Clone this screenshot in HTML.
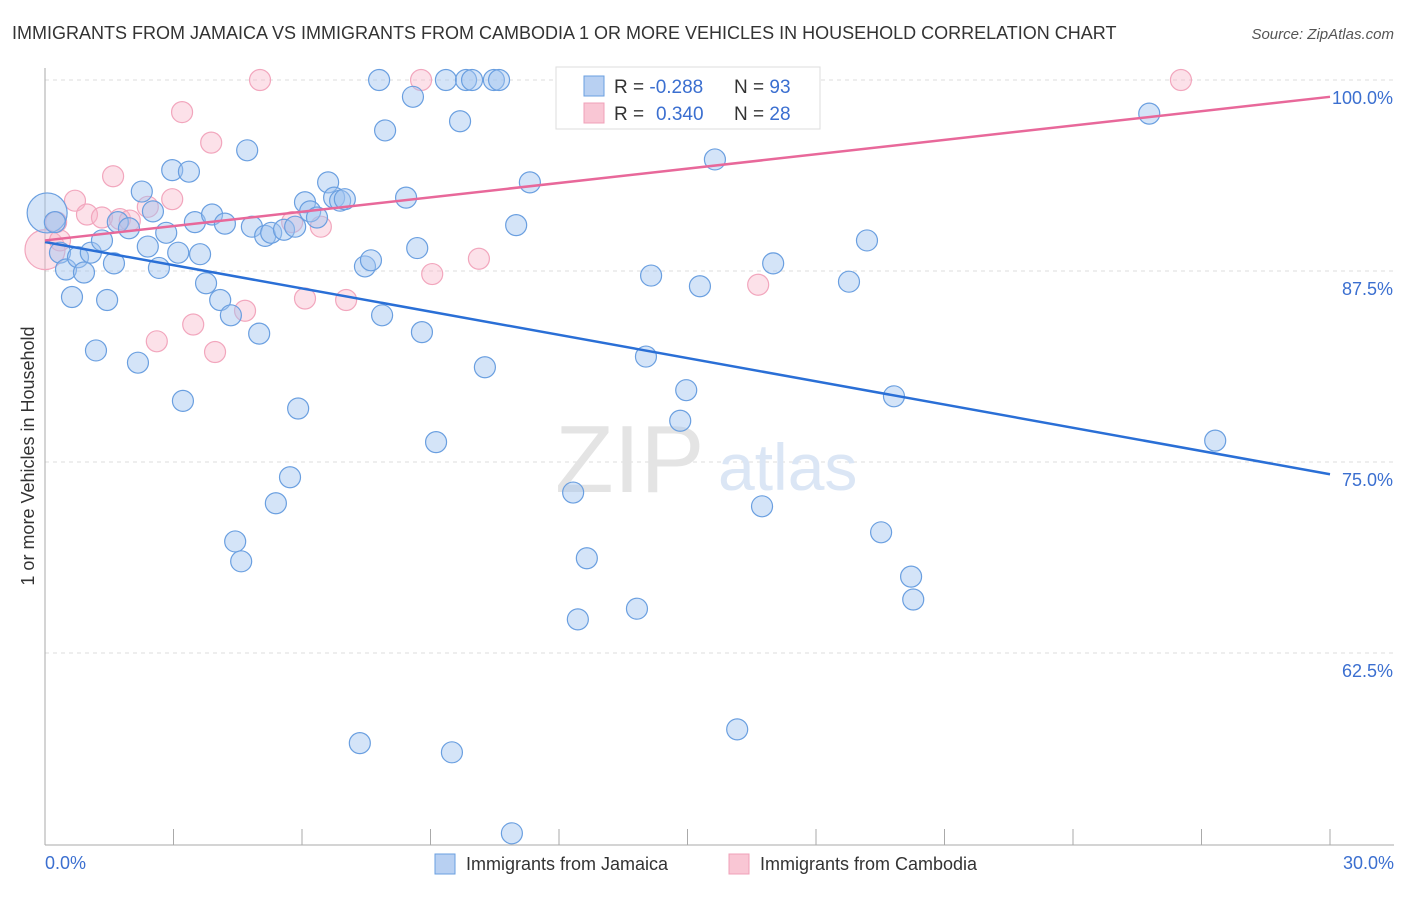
<!DOCTYPE html>
<html><head><meta charset="utf-8"><style>
body{margin:0;background:#fff;font-family:"Liberation Sans",sans-serif;}
svg text{font-family:"Liberation Sans",sans-serif;}
</style></head><body>
<svg width="1406" height="892" xmlns="http://www.w3.org/2000/svg">
<text x="12" y="39" font-size="18" fill="#333">IMMIGRANTS FROM JAMAICA VS IMMIGRANTS FROM CAMBODIA 1 OR MORE VEHICLES IN HOUSEHOLD CORRELATION CHART</text>
<text x="1394" y="39" font-size="15" fill="#555" text-anchor="end" font-style="italic">Source: ZipAtlas.com</text>
<g id="grid"></g>
<text x="555" y="492" font-size="96" fill="#e4e4e4" font-family="Liberation Serif">ZIP</text>
<text x="718" y="490" font-size="66" fill="#dbe6f5">atlas</text>
<g id="pts"></g>
<g id="lines"></g>
<text transform="translate(34,456) rotate(-90)" font-size="18" fill="#333" text-anchor="middle">1 or more Vehicles in Household</text>
<text x="45" y="869" font-size="18" fill="#3b6fd0">0.0%</text>
<text x="1394" y="869" font-size="18" fill="#3b6fd0" text-anchor="end">30.0%</text>
<g>
<rect x="556" y="67" width="264" height="62" fill="#fff" stroke="#ddd"/>
<rect x="584" y="76" width="20" height="20" fill="#b8d0f2" stroke="#6a9fe0"/>
<rect x="584" y="103" width="20" height="20" fill="#f9c6d4" stroke="#f0a0b8"/>
<text x="614" y="93" font-size="19" fill="#333">R = <tspan fill="#3b6fd0">-0.288</tspan>  <tspan x="734">N = </tspan><tspan fill="#3b6fd0">93</tspan></text>
<text x="614" y="120" font-size="19" fill="#333">R = <tspan fill="#3b6fd0" x="656">0.340</tspan><tspan x="734">N = </tspan><tspan fill="#3b6fd0">28</tspan></text>
</g>
<g><rect x="435" y="854" width="20" height="20" fill="#b8d0f2" stroke="#6a9fe0"/><text x="466" y="870" font-size="18" fill="#333">Immigrants from Jamaica</text></g>
<g><rect x="729" y="854" width="20" height="20" fill="#f9c6d4" stroke="#f0a0b8"/><text x="760" y="870" font-size="18" fill="#333">Immigrants from Cambodia</text></g>
</svg>
<script>
const yTicks=[100,87.5,75,62.5];
const xTicks=[0,3,6,9,12,15,18,21,24,27,30];
const jamX=[0.05,0.23,0.35,0.49,0.63,0.77,0.91,1.07,1.19,1.33,1.45,1.61,1.70,1.96,2.17,2.26,2.40,2.52,2.66,2.83,2.97,3.11,3.22,3.36,3.50,3.62,3.76,3.90,4.09,4.20,4.34,4.44,4.58,4.72,4.83,5.00,5.14,5.28,5.39,5.58,5.72,5.84,5.91,6.07,6.19,6.35,6.61,6.75,6.89,7.00,7.35,7.47,7.61,7.80,7.87,7.94,8.43,8.59,8.69,8.80,9.13,9.36,9.50,9.69,9.83,9.97,10.27,10.48,10.60,10.90,11.00,11.32,12.33,12.44,12.65,13.82,14.03,14.15,14.83,14.97,15.29,15.64,16.16,16.74,17.00,18.77,19.19,19.52,19.82,20.22,20.27,25.78,27.32];
const jamY=[91.3,90.7,88.7,87.6,85.8,88.4,87.4,88.7,82.3,89.5,85.6,88.0,90.7,90.3,81.5,92.7,89.1,91.4,87.7,90.0,94.1,88.7,79.0,94.0,90.7,88.6,86.7,91.2,85.6,90.6,84.6,69.8,68.5,95.4,90.4,83.4,89.8,90.0,72.3,90.2,74.0,90.4,78.5,92.0,91.4,91.0,93.3,92.3,92.1,92.2,56.6,87.8,88.2,100,84.6,96.7,92.3,98.9,89.0,83.5,76.3,100,56.0,97.3,100,100,81.2,100,100,50.7,90.5,93.3,73.0,64.7,68.7,65.4,81.9,87.2,77.7,79.7,86.5,94.8,57.5,72.1,88.0,86.8,89.5,70.4,79.3,67.5,66.0,97.8,76.4];
const camX=[0,0.26,0.35,0.70,0.98,1.33,1.59,1.75,1.98,2.40,2.61,2.97,3.20,3.46,3.88,3.97,4.67,5.02,5.77,6.07,6.44,7.03,8.78,9.04,10.13,16.65,26.52];
const camY=[88.9,90.7,89.5,92.1,91.2,91.0,93.7,90.9,90.8,91.7,82.9,92.2,97.9,84.0,95.9,82.2,84.9,100,90.7,85.7,90.4,85.6,100,87.3,88.3,86.6,100];
const jamTrend=[89.4,74.2];
const camTrend=[89.5,98.9];
const NS='http://www.w3.org/2000/svg';
const sx=v=>45+v/30*1285;
const sy=v=>80+(100-v)*15.28;
function mk(tag,attrs,parent){const e=document.createElementNS(NS,tag);for(const k in attrs)e.setAttribute(k,attrs[k]);parent.appendChild(e);return e;}
const grid=document.getElementById('grid');
yTicks.forEach(t=>{
 const l=mk('line',{x1:45,x2:1394,y1:sy(t),y2:sy(t),stroke:'#ddd','stroke-dasharray':'4,4'},grid);
 
 
 const tx=mk('text',{x:1393,y:sy(t)+24,'font-size':18,fill:'#3b6fd0','text-anchor':'end'},grid);
 tx.textContent=(t===100?'100.0':t.toFixed(1))+'%';
 
 
});
const ax=mk('line',{x1:45,x2:45,y1:68,y2:845,stroke:'#aaa'},grid);


const bx=mk('line',{x1:45,x2:1394,y1:845,y2:845,stroke:'#aaa'},grid);


xTicks.forEach(t=>{
 const l=mk('line',{x1:sx(t),x2:sx(t),y1:829,y2:845,stroke:'#aaa'},grid);
 
 
});
const pts=document.getElementById('pts');
camX.forEach((x,i)=>{
 const c=mk('circle',{cx:sx(x),cy:sy(camY[i]),r:i===0?20:10.5,fill:'rgba(248,180,200,0.4)',stroke:'#f2a6bd','stroke-width':1.2},pts);
 
 
});
jamX.forEach((x,i)=>{
 const c=mk('circle',{cx:sx(x),cy:sy(jamY[i]),r:i===0?20:10.5,fill:'rgba(160,195,240,0.45)',stroke:'#6a9fe0','stroke-width':1.2},pts);
 
 
});
const lines=document.getElementById('lines');
const bl=mk('line',{x1:sx(0),y1:sy(jamTrend[0]),x2:sx(30),y2:sy(jamTrend[1]),stroke:'#2a6fd6','stroke-width':2.5},lines);


const pl=mk('line',{x1:sx(0),y1:sy(camTrend[0]),x2:sx(30),y2:sy(camTrend[1]),stroke:'#e8689a','stroke-width':2.5},lines);


</script>
</body></html>
